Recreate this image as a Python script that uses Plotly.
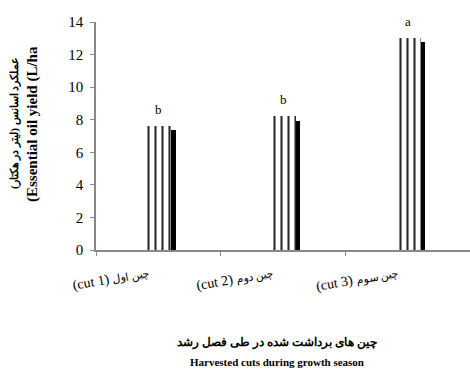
import plotly.graph_objects as go

cut_labels = ["(cut 1)", "(cut 2)", "(cut 3)"]
cut_labels_fa = ["چین اول", "چین دوم", "چین سوم"]
oil_yield = [7.6, 8.2, 13.0]
shadow_values = [7.35, 7.95, 12.75]
letters = ["b", "b", "a"]
y_ticks = [0, 2, 4, 6, 8, 10, 12, 14]

serif = "Liberation Serif"
categories = [f"{en} <span style='font-size:11px'>{fa}</span>" for en, fa in zip(cut_labels, cut_labels_fa)]

L, T, B, W, H = 96, 22, 122, 470, 372
PW, PH = W - L, H - T - B


def px_x(x):
    return (x - L) / PW


def px_y(y):
    return (H - B - y) / PH


fig = go.Figure()
fig.add_trace(go.Bar(
    x=categories, y=shadow_values, width=0.21, offset=-0.07,
    marker=dict(color="black", line=dict(width=0)),
    showlegend=False, hoverinfo="skip",
))
fig.add_trace(go.Bar(
    x=categories, y=oil_yield, width=0.21, offset=-0.105,
    marker=dict(color="white", line=dict(width=0),
                pattern=dict(shape="|", fgcolor="#2b2b2b", bgcolor="white",
                             size=7, solidity=0.3, fillmode="replace")),
    showlegend=False,
))

for c, v, t in zip(categories, oil_yield, letters):
    fig.add_annotation(x=c, y=v, text=t, showarrow=False, xanchor="center",
                       yanchor="bottom", yshift=7, xshift=0,
                       font=dict(family=serif, size=13, color="black"))

fig.add_annotation(x=px_x(14), y=px_y(123), xref="paper", yref="paper", textangle=-90,
                   xanchor="center", yanchor="middle",
                   text="<b>عملکرد اسانس (لیتر در هکتار)\u200F</b>", showarrow=False,
                   font=dict(family=serif, size=11, color="black"))
fig.add_annotation(x=px_x(33), y=px_y(124), xref="paper", yref="paper", textangle=-90,
                   xanchor="center", yanchor="middle",
                   text="<b>(Essential oil yield (L/ha</b>", showarrow=False,
                   font=dict(family=serif, size=15, color="black"))
fig.add_annotation(x=px_x(277), y=px_y(342), xref="paper", yref="paper",
                   xanchor="center", yanchor="middle",
                   text="<b>چین های برداشت شده در طی فصل رشد</b>", showarrow=False,
                   font=dict(family=serif, size=12, color="black"))
fig.add_annotation(x=px_x(277), y=px_y(362), xref="paper", yref="paper",
                   xanchor="center", yanchor="middle",
                   text="<b>Harvested cuts during growth season</b>", showarrow=False,
                   font=dict(family=serif, size=11, color="black"))

fig.update_layout(
    width=W, height=H,
    margin=dict(l=L, r=0, t=T, b=B),
    plot_bgcolor="white", paper_bgcolor="white",
    barmode="overlay", bargap=0,
    font=dict(family=serif, color="black"),
    xaxis=dict(showline=True, linecolor="#888888", linewidth=1.5,
               ticks="outside", tickson="boundaries", ticklen=4, tickcolor="#888888",
               tickangle=-10, tickfont=dict(family=serif, size=14),
               ticklabelstandoff=8, ticklabelshift=-10,
               showgrid=False, range=[-0.5, 2.5]),
    yaxis=dict(showline=True, linecolor="#888888", linewidth=1.5,
               ticks="outside", ticklen=4, tickcolor="#888888",
               tickvals=y_ticks, range=[0, 14], showgrid=False, zeroline=False,
               ticklabelstandoff=4,
               tickfont=dict(family=serif, size=15)),
)

fig.write_html("out.html", config={"displayModeBar": False},
               post_script="document.body.style.margin='0';")
